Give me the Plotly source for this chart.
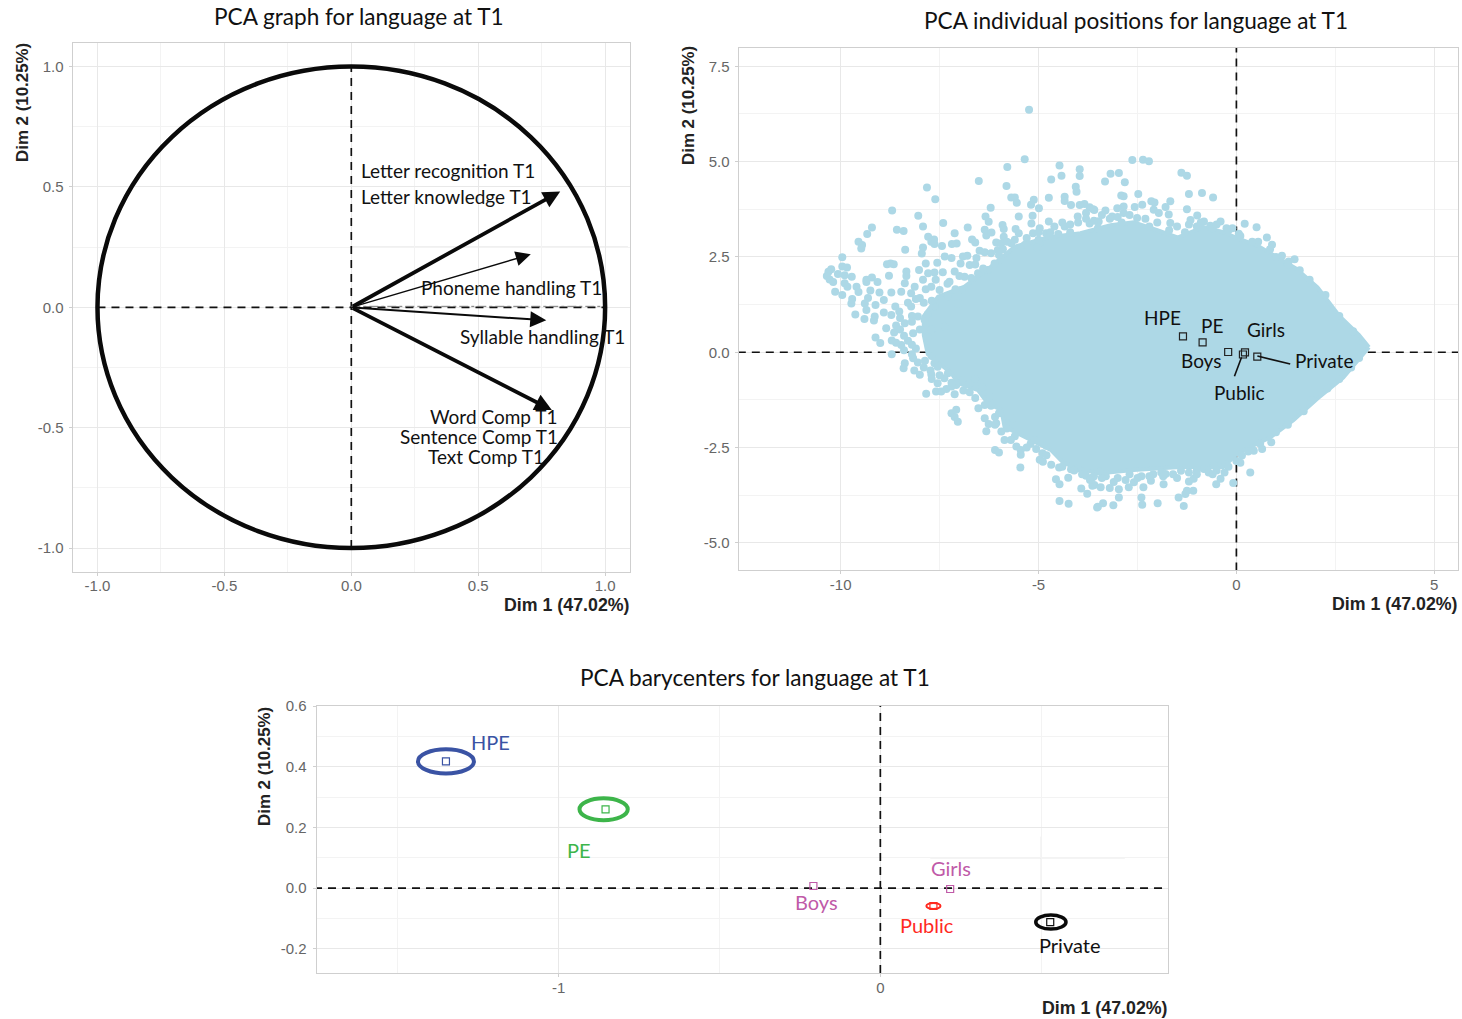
import plotly.graph_objects as go

W, H = 1462, 1019
BLUE = "#add8e6"
TICK = "#666666"
GRID = "#e8e8e8"
MINOR = "#f3f3f3"
BORDER = "#cfcfcf"

# ---- data ----
dim1_pct = "Dim 1 (47.02%)"
dim2_pct = "Dim 2 (10.25%)"

var_dim1 = [0.823, 0.707, 0.768, 0.79]
var_dim2 = [0.481, 0.22, -0.054, -0.427]
var_weight = [3.8, 1.5, 2.0, 3.8]

group_names = ["HPE", "PE", "Boys", "Girls", "Public", "Private"]
group_dim1 = [-1.35, -0.854, -0.208, 0.217, 0.165, 0.528]
group_dim2 = [0.418, 0.26, 0.007, -0.003, -0.059, -0.112]
group_colors = ["#3a53a4", "#3db54a", "#c05aa8", "#c05aa8", "#ff2a1f", "#111111"]

ellipse_names = ["HPE", "PE", "Public", "Private"]
ellipse_dim1 = [-1.35, -0.86, 0.165, 0.53]
ellipse_dim2 = [0.418, 0.26, -0.059, -0.112]
ellipse_rx = [0.087, 0.075, 0.022, 0.047]
ellipse_ry = [0.04, 0.036, 0.01, 0.023]

# outline of the solid part of the individuals cloud
cloud_dim1 = [3.35, 3.1, 2.6, 2.05, 1.5, 1.0, 0.53, 0.03, -0.33, -0.83, -1.49, -2.0, -2.6, -3.18, -3.94,
              -4.77, -5.6, -6.2, -6.87, -7.54, -7.9, -7.9, -7.8, -7.5, -7.2, -7.04, -6.53, -6.28, -5.94,
              -5.86, -5.36, -4.69, -4.36, -3.85, -3.43, -2.6, -1.41, -0.33, 0.03, 0.86, 1.44, 2.05, 2.7, 3.35]
cloud_dim2 = [0.13, 0.45, 0.95, 1.7, 2.2, 2.5, 2.80, 2.99, 3.15, 3.28, 3.01, 3.2, 3.41, 3.33, 3.12,
              3.01, 2.77, 2.25, 1.72, 1.46, 0.95, 0.45, -0.05, -0.3, -0.55, -0.81, -0.99, -1.34, -1.51,
              -1.95, -2.21, -2.56, -2.91, -3.09, -3.17, -3.09, -3.01, -3.01, -2.65, -2.23, -1.78, -1.21, -0.66, 0.13]

# individuals readable outside the solid part
ind_dim1 = [-5.24,-5.35,-5.79,-4.47,-3.96,-3.96,-4.42,-4.68,-6.51,-5.81,-4.06,-4.04,-7.82,-7.61,-4.74,-4.34,-4.34,
 -5.69,-5.60,-5.55,-5.12,-5.19,-4.99,-6.21,-8.70,-8.04,-6.34,-6.26,-5.50,-5.15,-5.18,-7.41,-7.92,-6.79,-9.21,-9.33,
 -8.58,-8.41,-9.55,-9.46,-9.48,-7.12,-7.79,-7.64,-7.71,-7.63,-7.44,-7.19,-7.07,-6.68,-6.60,-6.36,-6.32,-6.19,-5.91,
 -5.88,-5.88,-5.58,-5.5,-7.92,-7.95,-8.37,-9.96,-9.96,-9.84,-10.24,-10.31,-10.35,-10.28,-10.19,-10.07,-9.9,-9.72,
 -10.14,-9.96,-9.9,-9.83,-9.6,-9.55,-9.71,-9.73,-8.83,-8.74,-8.66,-8.78,-8.34,-8.34,-9.35,-9.21,-9.35,-9.07,-9.63,
 -9.40,-9.16,-9.25,-9.02,-9.31,-9.39,-9.35,-9.12,-8.91,-8.72,-8.62,-8.91,-8.52,-8.72,-9.14,-8.85,-8.65,-9.12,-9.0,
 -8.71,-8.4,-8.47,-7.37,-7.2,-7.56,-7.85,-8.02,-6.91,-6.8,-6.97,-6.74,-6.49,-6.36,-6.57,-6.07,-5.94,-6.03,-5.69,
 -5.35,-4.97,-5.03,-4.74,-4.97,-5.14,-4.81,-4.34,-4.18,-3.96,-3.84,-3.71,-3.59,-4.01,-3.71,-3.5,-3.8,-7.79,-7.63,
 -7.42,-7.12,-7.92,-8.13,-8.38,-7.25,-6.87,-6.53,-7.71,-7.5,-8.22,-8.47,-8.0,-7.29,-6.95,-6.28,-5.94,-6.11,-8.22,
 -7.88,-8.38,-7.63,-7.71,-8.05,-7.04,-8.17,-7.37,
 -8.71,-8.38,-8.41,-8.14,-8,-8.17,-8.05,-7.87,-7.73,-7.71,-7.63,-7.55,-7.29,-7.38,-7.55,-7.59,-7.46,-7.33,-7.84,
 -7.12,-7.08,-6.91,-6.74,-6.74,-6.42,-7.2,-7.08,-7.12,-7.04,-6.52,-6.36,-6.23,-6.36,-6.26,-6.32,-6.07,-5.86,-5.94,
 -5.65,-6.10,-6.0,-5.56,-5.45,-5.45,-5.46,-5.06,-4.97,-4.89,-4.9,-4.68,-4.48,-4.56,-4.47,-4.25,-4.18,-4.01,-4.47,
 -4.24,-3.92,-3.77,-3.5,-3.8,-3.63,-3.59,-3.46,
 -2.63,-2.36,-2.21,-3.18,-2.97,-3.32,-2.82,-1.39,-1.25,-2.91,-2.85,-2.48,-1.2,-0.87,-0.59,-2.15,-2.07,-1.67,-1.79,
 -2.38,-2.57,-2.85,-3.01,-3.31,-3.62,-1.25,-2.09,-1.96,-1.71,-0.99,-1.16,-0.82,-0.40,-0.66,-0.25,0.21,0.51,0.06,
 0.77,0.55,0.90,1.15,1.47,1.32,-3.14,-2.85,-3.48,-2.51,-1.67,
 0.35,0.88,0.65,0.44,0.14,-0.08,-0.28,-0.40,-0.51,-0.82,-1.08,-1.2,-1.09,-1.25,-1.29,-1.46,-1.33,-1.99,-2.38,-2.4,
 -2.97,-3.11,-3.37,-3.52,-1.84,-2.35,-2.72,-2.97,-3.2,-3.43,-3.64,-2.59,-2.16,-1.79,-1.4,-0.57,
 -3.3,-3.0,-2.7,-2.4,-2.1,-1.9,-1.6,-1.2,-1.0,-0.7,-0.5,-0.2,0,0.3,0.6,1.0,1.3,1.7,1.9,2.3,2.6,2.9,3.1,3.2,2.95,2.6,
 2.25,1.85,1.6,1.3,1.0,0.85,0.4,0.1,-0.2,-0.6,-1.0,-1.3,-1.7,-2.2,-2.9,-3.5,-4.2,-4.5,-5.0,-5.3,-6.0,-6.4,-6.7,-7.1,
 -7.7,-8.2,-8.5,-8.2,-7.9,-7.2,-6.6,-6.1,-5.6,-5.2,-4.8,-4.4,-3.9,-3.6,-4.1,
 -8.3,-8.1,-7.9,-8.2,-8.0,-7.8,-8.5,-8.6,-8.3,-8.1,-8.6,-8.4,-8.2,-7.8,-7.7,-7.5,-7.7,-7.2,-6.9,-6.6,-6.2,-6.0,-6.1,
 -5.8,-5.7,-5.3,-5.1,-4.8,-7.0,-6.6,-6.2,-5.9,-7.3,-7.6,-7.85,
 -4.6,-4.4,-4.2,-4.0,-3.8,-3.6,-3.4,-4.7,-5.0,-5.3,-5.6,-5.8,-3.2,-3.0,-2.7,-2.3,-2,-1.5,-1.2,-0.9,-0.5,-0.1,
 -2.8,-2.5,-2.2,-1.85,-1.5,-1.0,-0.6,-0.3,0.1,-3.7,-3.4,-3.1]
ind_dim2 = [6.36,5.06,4.86,4.90,4.80,4.62,4.63,4.53,4.49,4.36,4.34,4.21,4.32,4.01,4.05,4.08,3.97,
 4.06,4.06,3.92,4.0,3.87,3.78,3.79,3.72,3.58,3.56,3.42,3.56,3.58,3.38,3.39,3.30,3.27,3.27,3.10,
 3.21,3.18,2.90,2.81,2.72,3.12,3.03,2.96,2.90,2.84,2.79,2.84,2.85,2.96,2.88,3.21,3.06,3.14,3.34,
 3.23,3.03,3.23,3.12,2.75,2.59,2.69,2.49,2.25,2.22,2.18,2.11,2.0,1.91,1.84,2.05,2.02,1.98,
 1.59,1.50,1.81,1.72,1.72,1.58,1.40,1.28,2.31,2.33,2.31,2.01,2.12,2.0,1.90,1.96,1.84,1.84,0.99,
 0.87,0.83,1.62,1.57,1.42,1.28,1.11,1.24,1.37,1.57,1.20,1.04,1.07,0.98,0.94,0.63,0.52,0.39,0.24,
 0.31,0.43,0.19,2.51,2.47,2.35,2.33,2.16,2.51,2.53,2.33,2.29,2.66,2.62,2.47,2.88,2.86,2.68,2.86,
 2.81,2.86,2.75,3.43,3.25,3.12,3.12,3.30,3.86,3.86,3.89,3.80,3.73,3.56,3.38,3.43,3.65,2.07,2.09,
 2.10,2.12,1.90,1.72,1.81,1.85,1.98,2.07,1.72,1.63,1.55,1.59,1.42,1.46,1.63,2.16,2.42,2.33,1.2,
 0.85,0.76,1.2,0.59,0.94,1.28,0.5,0.67,
 -0.05,-0.29,-0.42,-0.48,-0.59,-0.16,-0.27,-0.22,-0.48,-0.58,-0.29,-0.38,-0.55,-0.68,-0.81,-1.03,-1.03,-0.96,-1.09,
 -1.10,-0.86,-0.73,-0.81,-1.05,-0.92,-1.6,-1.51,-1.70,-1.82,-1.47,-1.38,-1.16,-1.73,-1.88,-2.07,-1.86,-2.30,-2.08,
 -1.73,-2.56,-2.63,-2.47,-2.56,-2.69,-3.02,-2.54,-2.82,-2.87,-2.65,-2.95,-3.02,-3.33,-3.46,-3.29,-3.07,-3.04,-3.9,
 -3.97,-3.57,-3.71,-4.05,-3.24,-3.28,-3.48,-3.13,
 5.04,5.05,5.01,4.68,4.70,4.48,4.46,4.71,4.63,4.11,4.09,4.15,4.15,4.18,4.06,3.96,3.93,3.96,3.81,
 3.87,3.81,3.82,3.78,3.72,3.75,3.75,3.74,3.65,3.61,3.59,3.47,3.43,3.43,3.32,3.25,3.37,3.28,3.11,
 3.01,2.90,2.82,2.53,2.44,2.38,3.56,3.65,3.43,3.52,3.39,
 -3.15,-2.36,-2.54,-2.58,-2.71,-3.43,-2.93,-3.32,-3.46,-3.06,-3.32,-3.39,-3.63,-3.63,-3.72,-3.81,-4.03,-3.96,-4.0,-3.81,
 -3.81,-4.01,-3.96,-4.07,-3.46,-3.54,-3.54,-3.59,-3.56,-3.54,-3.5,-3.41,-3.37,-3.19,-3.11,-2.97,
 -3.25,-3.3,-3.2,-3.25,-3.2,-3.15,-3.2,-3.15,-3.1,-3.15,-3.1,-3.0,-2.85,-2.6,-2.4,-2.1,-1.9,-1.55,-1.25,-0.95,-0.7,-0.4,-0.15,0.2,0.55,0.95,
 1.5,1.9,2.15,2.3,2.5,2.7,2.9,3.05,3.2,3.25,3.3,3.15,3.2,3.3,3.4,3.25,3.15,3.1,2.95,2.85,2.55,2.2,1.95,1.65,
 1.35,0.95,0.6,0.2,-0.4,-0.9,-1.2,-1.7,-2.2,-2.4,-2.7,-3.0,-3.2,-3.25,-3.1,
 1.3,1.4,1.3,0.8,0.6,1.0,0.9,0.7,0.3,0.1,0.25,0.05,-0.05,0.4,-0.1,-0.6,-0.7,-0.8,-1.0,-0.7,-1.4,-1.6,-1.9,
 -2.0,-2.3,-2.5,-2.3,-2.45,2.0,2.3,2.6,2.7,1.8,1.9,1.65,
 3.3,3.4,3.35,3.4,3.5,3.45,3.6,3.15,3.15,3.0,2.95,2.9,3.5,3.55,3.6,3.5,3.4,3.3,3.35,3.4,3.35,3.25,
 -3.35,-3.3,-3.25,-3.25,-3.3,-3.2,-3.2,-3.15,-2.9,-3.35,-3.3,-3.4]
assert len(ind_dim1) == len(ind_dim2), (len(ind_dim1), len(ind_dim2))

# ---- axis ticks ----
p1_major = [-1.0, -0.5, 0.0, 0.5, 1.0]
p1_ticktext = ["-1.0", "-0.5", "0.0", "0.5", "1.0"]
p1_minor = [-0.75, -0.25, 0.25, 0.75]
p2_x_major = [-10, -5, 0, 5]
p2_x_text = ["-10", "-5", "0", "5"]
p2_x_minor = [-7.5, -2.5, 2.5]
p2_y_major = [-5, -2.5, 0, 2.5, 5, 7.5]
p2_y_text = ["-5.0", "-2.5", "0.0", "2.5", "5.0", "7.5"]
p2_y_minor = [-3.75, -1.25, 1.25, 3.75, 6.25]
p3_x_major = [-1, 0]
p3_x_text = ["-1", "0"]
p3_x_minor = [-1.5, -0.5, 0.5]
p3_y_major = [-0.2, 0, 0.2, 0.4, 0.6]
p3_y_text = ["-0.2", "0.0", "0.2", "0.4", "0.6"]
p3_y_minor = [-0.1, 0.1, 0.3, 0.5]


def dom_x(a, b):
    return [a / W, b / W]


def dom_y(top, bottom):
    return [1 - bottom / H, 1 - top / H]


def axis(domain, rng, major, text, minor, anchor, standoff):
    return dict(domain=domain, range=rng, anchor=anchor, tickmode="array", tickvals=major, ticktext=text,
                automargin=False, showgrid=True, gridcolor=GRID, gridwidth=1, zeroline=False, showline=True,
                mirror=True, linecolor=BORDER, linewidth=1, ticks="outside", ticklen=3, tickcolor=BORDER,
                ticklabelstandoff=standoff,
                tickfont=dict(family="Liberation Sans", size=15, color=TICK),
                minor=dict(tickmode="array", tickvals=minor, showgrid=True, gridcolor=MINOR, gridwidth=1, ticks=""))


fig = go.Figure()
DASH = dict(color="#111111", width=1.7, dash="8px,6px")


def dashed(x, y, xa, ya):
    fig.add_trace(go.Scatter(x=x, y=y, mode="lines", line=DASH, xaxis=xa, yaxis=ya, showlegend=False, hoverinfo="skip"))


# panel 1
dashed([-1, 1], [0, 0], "x", "y")
dashed([0, 0], [-1, 1], "x", "y")
fig.add_trace(go.Scatter(x=[0, 1], y=[0.004, 0.004], mode="lines", xaxis="x", yaxis="y", showlegend=False,
                         hoverinfo="skip", line=dict(color="#777777", width=1, dash="dashdot")))

# panel 2
dashed([-12.6, 5.6], [0, 0], "x2", "y2")
dashed([0, 0], [-5.72, 8], "x2", "y2")
fig.add_trace(go.Scatter(x=cloud_dim1, y=cloud_dim2, mode="lines", fill="toself", fillcolor=BLUE, xaxis="x2", yaxis="y2",
                         line=dict(color=BLUE, width=4), showlegend=False, hoverinfo="skip"))
fig.add_trace(go.Scatter(x=ind_dim1, y=ind_dim2, mode="markers", xaxis="x2", yaxis="y2", showlegend=False,
                         marker=dict(color=BLUE, size=8)))
fig.add_trace(go.Scatter(x=group_dim1, y=group_dim2, mode="markers", xaxis="x2", yaxis="y2", showlegend=False,
                         marker=dict(symbol="square-open", color="#222222", size=7, line=dict(width=1.2))))
for lx, ly in [([-0.05, 0.13], [-0.63, -0.13]), ([1.36, 0.53], [-0.31, -0.1])]:
    fig.add_trace(go.Scatter(x=lx, y=ly, mode="lines", xaxis="x2", yaxis="y2", showlegend=False, hoverinfo="skip",
                             line=dict(color="#111111", width=1.6)))

# panel 3
dashed([-1.76, 0.9], [0, 0], "x3", "y3")
dashed([0, 0], [-0.28, 0.61], "x3", "y3")
fig.add_trace(go.Scatter(x=group_dim1, y=group_dim2, mode="markers", xaxis="x3", yaxis="y3", showlegend=False,
                         marker=dict(symbol="square-open", color=group_colors, size=7, line=dict(width=1.2))))

RESIDUE = dict(color="#d9d9d9", width=1)
shapes = [dict(type="circle", xref="x", yref="y", x0=-1, y0=-1, x1=1, y1=1, line=dict(color="#0a0a0a", width=4.5))]
for xr, yr, x0, x1, y0, y1 in [("x", "y", 0, 1.09, 0.25, 0.25), ("x", "y", 0, 1.09, -0.25, -0.25),
                               ("x3", "y3", -1, -1, 0.1, 0.32), ("x3", "y3", 0.5, 0.5, -0.105, 0.17),
                               ("x3", "y3", 0.155, 0.76, 0.1, 0.1), ("x3", "y3", -1.096, -0.83, 0.2, 0.2)]:
    shapes.append(dict(type="line", xref=xr, yref=yr, x0=x0, x1=x1, y0=y0, y1=y1, line=RESIDUE, layer="below"))
ell_col = {"HPE": ("#3a53a4", 4), "PE": ("#3db54a", 4), "Public": ("#ff2a1f", 2), "Private": ("#0a0a0a", 3.5)}
for n, cx, cy, rx, ry in zip(ellipse_names, ellipse_dim1, ellipse_dim2, ellipse_rx, ellipse_ry):
    c, w = ell_col[n]
    shapes.append(dict(type="circle", xref="x3", yref="y3", x0=cx - rx, x1=cx + rx, y0=cy - ry, y1=cy + ry,
                       line=dict(color=c, width=w)))

ann = []


def text(s, x, y, size=19, color="#111111", fam="Lato", anchor="center", bold=False, angle=0, ya="middle"):
    ann.append(dict(text=f"<b>{s}</b>" if bold else s, x=x / W, y=1 - y / H, xref="paper", yref="paper",
                    xanchor=anchor, yanchor=ya, showarrow=False, textangle=angle,
                    font=dict(family=fam, size=size, color=color)))


for x, y, s in [(359, 17, "PCA graph for language at T1"), (1136, 21, "PCA individual positions for language at T1"),
                (755, 677, "PCA barycenters for language at T1")]:
    text(s, x, y, size=22.6)
for x, y in [(632, 605), (1460, 604), (1170, 1008)]:
    text(dim1_pct, x, y, size=17.8, fam="Liberation Sans", anchor="right", bold=True, color="#222222")
for x, y in [(22, 103), (688, 106), (264, 767)]:
    text(dim2_pct, x, y, size=16.9, fam="Liberation Sans", bold=True, angle=-90, color="#222222")

for s, x, y in [("Letter recognition T1", 359, 171), ("Letter knowledge T1", 359, 197), ("Phoneme handling T1", 419, 287),
                ("Syllable handling T1", 458, 336)]:
    text(s, x, y, anchor="left")
for s, x, y in [("Word Comp T1", 560, 417), ("Sentence Comp T1", 560, 436), ("Text Comp T1", 546, 456)]:
    text(s, x, y, anchor="right")

for s, x, y in zip(group_names, [1162, 1212, 1201, 1266, 1239, 1324], [317, 325, 361, 329, 392, 360]):
    text(s, x, y)
for s, c, x, y in zip(group_names, group_colors, [490, 579, 816, 951, 927, 1070], [742, 850, 902, 868, 925, 945]):
    text(s, x, y, size=20, color=c)

arrow_size = [0.9, 2.0, 1.6, 0.9]
for vx, vy, w, sz in zip(var_dim1, var_dim2, var_weight, arrow_size):
    ann.append(dict(x=vx, y=vy, ax=0, ay=0, xref="x", yref="y", axref="x", ayref="y", text="", showarrow=True,
                    arrowhead=2, arrowwidth=w, arrowsize=sz, arrowcolor="#0a0a0a"))

fig.update_layout(
    width=W, height=H, autosize=False, margin=dict(l=0, r=0, t=0, b=0), paper_bgcolor="white", plot_bgcolor="white",
    showlegend=False, shapes=shapes, annotations=ann,
    xaxis=axis(dom_x(72.6, 630), [-1.098, 1.098], p1_major, p1_ticktext, p1_minor, "y", -3),
    yaxis=axis(dom_y(42.6, 572), [-1.0996, 1.0996], p1_major, p1_ticktext, p1_minor, "x", 2),
    xaxis2=axis(dom_x(738.6, 1458), [-12.58, 5.6], p2_x_major, p2_x_text, p2_x_minor, "y2", -2),
    yaxis2=axis(dom_y(47.6, 570), [-5.71, 7.99], p2_y_major, p2_y_text, p2_y_minor, "x2", 2),
    xaxis3=axis(dom_x(316.6, 1168), [-1.752, 0.894], p3_x_major, p3_x_text, p3_x_minor, "y3", -2),
    yaxis3=axis(dom_y(705.6, 973), [-0.28, 0.602], p3_y_major, p3_y_text, p3_y_minor, "x3", 3),
)

fig.write_html("out.html", config={"displayModeBar": False}, post_script="document.body.style.margin='0';")
